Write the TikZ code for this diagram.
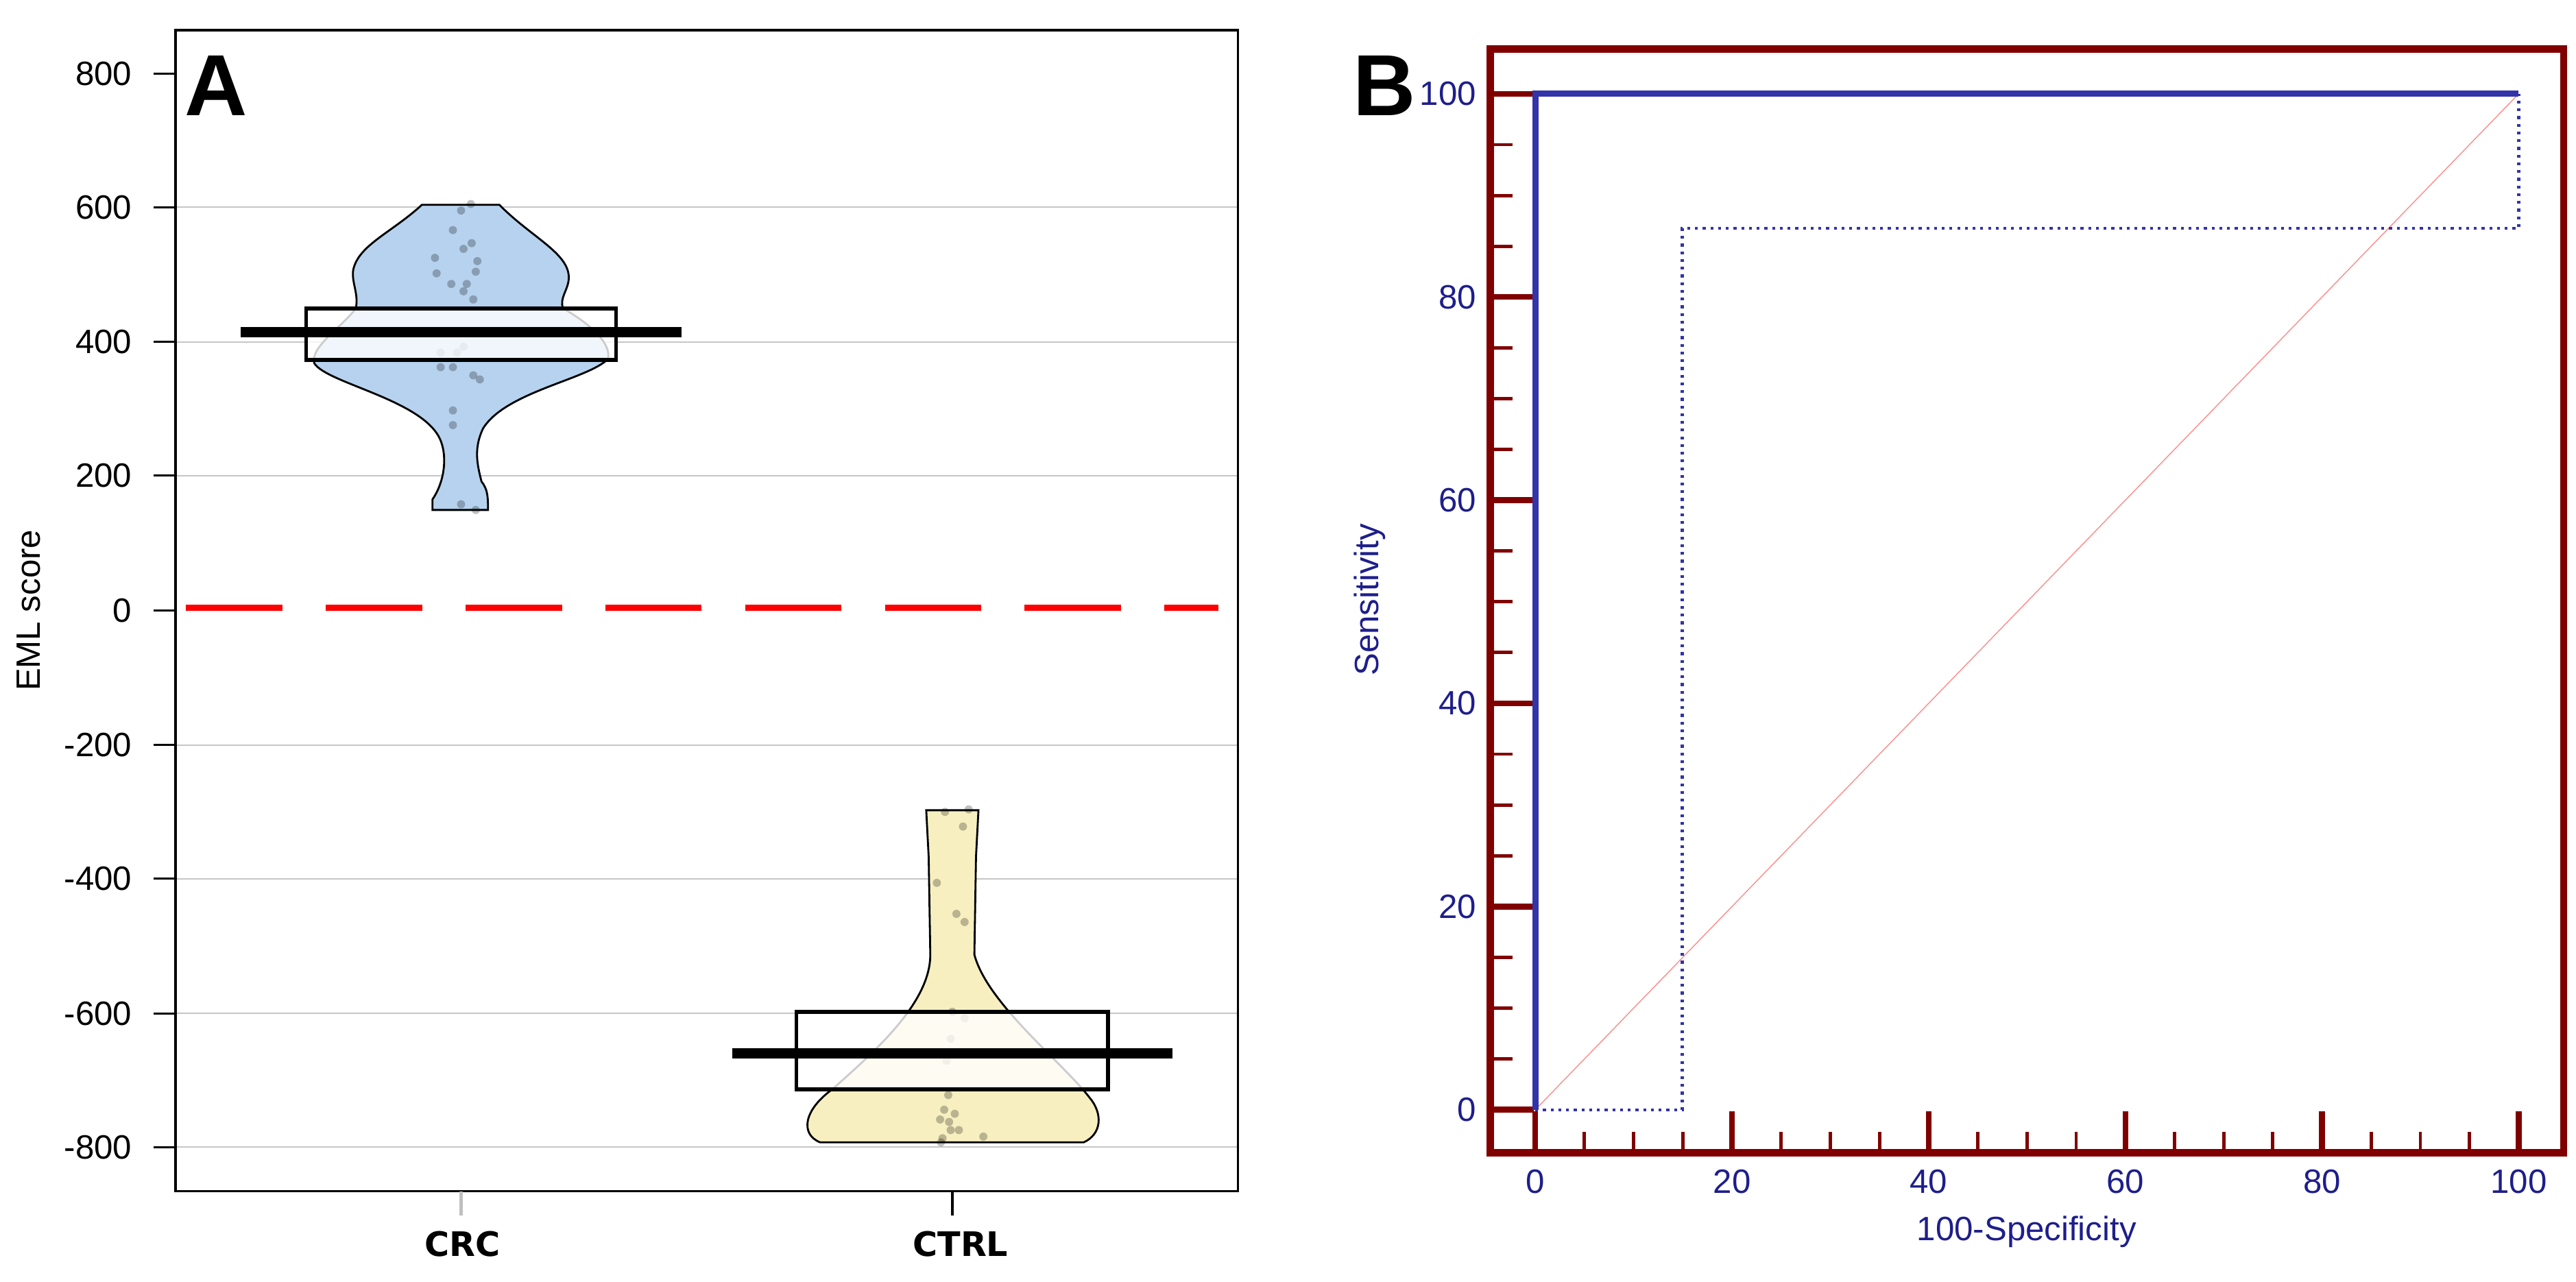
\documentclass[tikz,border=0pt]{standalone}
\usepackage{fontspec}
\setmainfont{Liberation Sans}
\newfontfamily\djv{DejaVu Sans}
\begin{document}
\begin{tikzpicture}[
  tl/.style={font=\fontsize{14}{16}\selectfont, inner sep=0pt},
  cat/.style={font=\djv\bfseries\fontsize{14}{16}\selectfont, inner sep=0pt},
  big/.style={font=\bfseries\fontsize{36}{40}\selectfont, inner sep=0pt},
  grid/.style={gray!45, line width=0.6pt},
  pt/.style={fill=black, fill opacity=0.25, draw=none},
  dr/.style={draw=dred},
  navy/.style={text=blnavy}]
\definecolor{dred}{RGB}{128,0,0}
\definecolor{blnavy}{RGB}{30,30,140}
\definecolor{roc}{RGB}{51,51,170}
\definecolor{vblue}{RGB}{182,210,238}
\definecolor{vyel}{RGB}{247,239,192}
\useasboundingbox (0,0) rectangle (37.57,-18.70);
% ---------- Panel A ----------
\begin{scope}[x=0.0119cm, y=-0.0119cm]
 \foreach \yy in {254,419,583,913,1077,1242,1406} \draw[grid] (215,\yy) -- (1517,\yy);
 \foreach \v/\yy in {800/90,600/254,400/419,200/583,0/748,-200/913,-400/1077,-600/1242,-800/1406}{
   \draw[line width=0.8pt] (188,\yy) -- (215,\yy);
   \node[tl, anchor=east] (yl\v) at (162,\yy) {\v};
 }
 \node[tl, rotate=90] (ylab) at (35,748) {EML score};
 \draw[red, line width=2.6pt, dash pattern=on 40 off 18] (228,745) -- (1493,745);
 % CRC violin
 \draw[fill=vblue, line width=0.8pt] (517,251) -- (612,251) .. controls (650,290) and (697,310) .. (697,340)
   .. controls (697,355) and (685,365) .. (690,378) .. controls (720,395) and (750,420) .. (745,440)
   .. controls (720,465) and (620,480) .. (592,525) .. controls (580,550) and (585,570) .. (590,590)
   .. controls (598,600) and (598,610) .. (598,625) -- (530,625) -- (530,612)
   .. controls (545,590) and (548,560) .. (540,540) .. controls (520,490) and (400,470) .. (385,445)
   .. controls (380,425) and (420,400) .. (436,378) .. controls (440,360) and (430,345) .. (433,330)
   .. controls (440,300) and (480,285) .. (517,251) -- cycle;
 \foreach \px/\py in {577/250,565/258,555/282,578/298,568/305,533/316,585/320,535/335,583/333,553/348,572/348,568/357,580/367,540/432,560/432,568/425,555/450,580/460,588/465,555/503,555/521,565/618,583/625,540/450}
   \fill[pt] (\px,\py) circle (5);
 \draw[line width=1.6pt, fill=white, fill opacity=0.8] (375,378) rectangle (755,441);
 \draw[line width=4.5pt] (295,407) -- (835,407);
 % CTRL violin
 \draw[fill=vyel, line width=0.8pt] (1135,993) -- (1199,993) -- (1196,1050) -- (1194,1170)
   .. controls (1210,1230) and (1300,1300) .. (1335,1345) .. controls (1352,1365) and (1350,1390) .. (1328,1400)
   -- (1005,1400) .. controls (980,1390) and (985,1360) .. (1020,1335)
   .. controls (1070,1290) and (1140,1230) .. (1140,1170) -- (1138,1050) -- cycle;
 \foreach \px/\py in {1158/995,1187/992,1180/1013,1148/1082,1172/1120,1182/1130,1167/1240,1182/1248,1165/1273,1160/1300,1162/1342,1157/1360,1170/1365,1152/1372,1165/1385,1155/1395,1175/1385,1205/1393,1153/1400,1160/1290,1163/1375}
   \fill[pt] (\px,\py) circle (5);
 \draw[line width=1.6pt, fill=white, fill opacity=0.8] (976,1240) rectangle (1358,1335);
 \draw[line width=4.5pt] (897,1291) -- (1437,1291);
 \draw[line width=1pt] (215,37) rectangle (1517,1460);
 \draw[gray!50, line width=1.2pt] (565,1460) -- (565,1490);
 \draw[line width=1pt] (1167,1460) -- (1167,1490);
 \node[cat] (crc) at (567,1525) {CRC};
 \node[cat] (ctrl) at (1177,1525) {CTRL};
 \node[big] (A) at (265,105) {A};
\end{scope}
% ---------- Panel B ----------
\begin{scope}[shift={(19cm,0)}, x=0.0119cm, y=-0.0119cm]
 \foreach \k in {0,5,...,100}{
   \pgfmathsetmacro{\yy}{1360-12.45*\k}
   \pgfmathsetmacro{\xx}{285+12.05*\k}
   \pgfmathtruncatemacro{\m}{mod(\k,20)}
   \ifnum\m=0
     \draw[dred, line width=2.4pt] (230,\yy) -- (283,\yy);
     \draw[dred, line width=2.4pt] (\xx,1413) -- (\xx,1362);
     \node[tl, navy, anchor=east] (by\k) at (213,\yy) {\k};
     \node[tl, navy] (bx\k) at (\xx,1448) {\k};
   \else
     \draw[dred, line width=1.4pt] (230,\yy) -- (257,\yy);
     \draw[dred, line width=1.4pt] (\xx,1413) -- (\xx,1387);
   \fi
 }
 \draw[red!45, line width=0.4pt] (285,1360) -- (1490,115);
 \draw[roc, line width=1.2pt, dotted] (285,1360) -- (465,1360) -- (465,280) -- (1490,280) -- (1490,115);
 \draw[roc, line width=2.6pt] (285,1360) -- (285,115) -- (1490,115);
 \draw[dred, line width=3pt] (230,60) rectangle (1545,1413);
 \node[tl, navy, rotate=90] (sens) at (82,735) {Sensitivity};
 \node[tl, navy] (spec) at (887,1510) {100-Specificity};
 \node[big] (B) at (100,105) {B};
\end{scope}
\end{tikzpicture}
\end{document}
